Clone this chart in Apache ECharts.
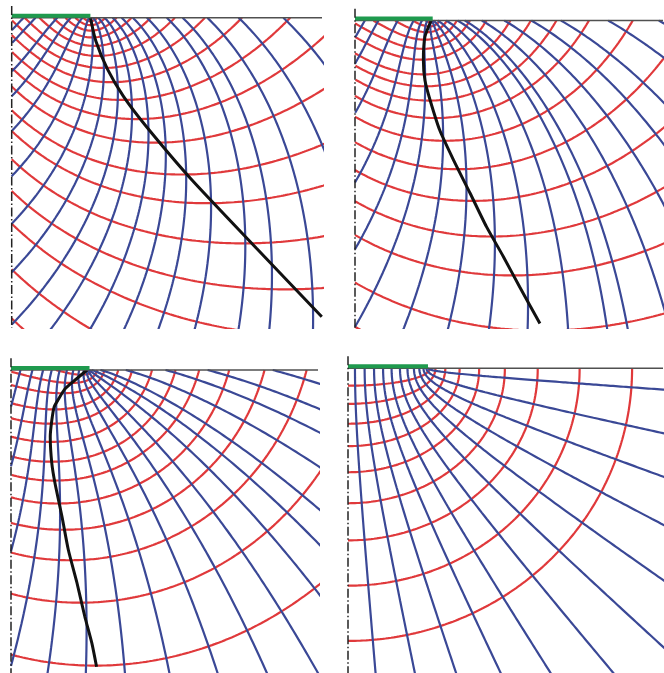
<!DOCTYPE html>
<html><head><meta charset="utf-8">
<script src="https://cdn.jsdelivr.net/npm/echarts@6/dist/echarts.min.js"></script>
<style>html,body{margin:0;padding:0;background:#fff}#c{width:664px;height:673px}</style>
</head><body><div id="c"></div>
<script>
// ---- data (footing half-width = 1 unit) ----
// trajectory angle (deg) of each net relative to the confocal ellipse/hyperbola net
const panelAngles = [44, 30, 15, 0];
// red family levels  (u*cos(a) + v*sin(a))
const panel1Red = [0.167,0.302,0.437,0.572,0.707,0.842,0.977,1.113,1.249,1.393,1.523,1.659,1.811,1.926,2.062,2.192,2.307,2.443,2.566];
const panel2Red = [0.067,0.217,0.367,0.517,0.667,0.817,0.967,1.140,1.262,1.391,1.530,1.686,1.851,2.006,2.154,2.292,2.457,2.587];
const panel3Red = [0.08,0.25,0.426,0.590,0.803,0.967,1.150,1.324,1.469,1.624,1.778,1.933,2.116,2.338];
const panel4Red = [0.216,0.431,0.647,0.862,1.078,1.294,1.509,1.725,1.940];
// blue family levels (-u*sin(a) + v*cos(a))
const panel1Blue = [1.02,0.908,0.685,0.519,0.324,0.123,-0.044,-0.183,-0.308,-0.41,-0.51,-0.60,-0.692,-0.789,-0.903,-0.98,-1.084,-1.195,-1.327,-1.45];
const panel2Blue = [1.25,1.095,0.855,0.62,0.46,0.32,0.18,0.05,-0.07,-0.18,-0.29,-0.39,-0.44,-0.536,-0.635,-0.73,-0.815,-0.925,-1.02];
const panel3Blue = [1.40,1.25,1.11,0.99,0.87,0.75,0.63,0.50,0.37,0.25,0.14,0.03,-0.06,-0.135,-0.24,-0.336,-0.406,-0.485];
const panel4Blue = [1.4835,1.3614,1.2392,1.1170,0.9948,0.8639,0.7330,0.6021,0.4712,0.3403,0.2094,0.0698];
// black line points [x, depth]
const panel1Black = [[1.0,0],[1.07,0.3],[1.22,0.66],[1.42,1.0],[1.70,1.37],[2.27,2.04],[3.11,2.93],[3.94,3.80]];
const panel2Black = [[0.98,0],[0.90,0.21],[0.88,0.51],[0.90,0.77],[0.965,1.02],[1.09,1.41],[1.27,1.80],[1.48,2.22],[1.69,2.65],[1.91,3.04],[2.12,3.43],[2.38,3.90]];
const panel3Black = [[0.97,0],[0.79,0.15],[0.68,0.25],[0.60,0.38],[0.55,0.47],[0.52,0.64],[0.50,0.85],[0.52,1.19],[0.56,1.44],[0.65,1.87],[0.73,2.29],[0.84,2.71],[0.94,3.14],[1.03,3.48],[1.09,3.78]];
const panel4Black = [];

// ---- layout ----
const panels = [
  {left:11.7, top:17.7, a:78.7, w:310.3, h:310.3},
  {left:355, top:20.5, a:77.7, w:308, h:307.5},
  {left:11, top:370, a:78.5, w:307, h:303},
  {left:348, top:368.3, a:80, w:315, h:304.7}
];
const reds = [panel1Red, panel2Red, panel3Red, panel4Red];
const blues = [panel1Blue, panel2Blue, panel3Blue, panel4Blue];
const blacks = [panel1Black, panel2Black, panel3Black, panel4Black];

const RED = '#e0393b', BLUE = '#3a4896';
function mapW(u, v) { return [Math.cosh(u) * Math.cos(v), Math.sinh(u) * Math.sin(v)]; }
const N = 320, UMAX = 3.2, H = Math.PI / 2;
function redPts(F, ang) {
  const a = ang * Math.PI / 180, s = Math.sin(a), c = Math.cos(a), p = [];
  if (s < 1e-9) { for (let i = 0; i <= N; i++) p.push(mapW(F, H * i / N)); return p; }
  const v0 = Math.max(0, (F - UMAX * c) / s), v1 = Math.min(H, F / s);
  for (let i = 0; i <= N; i++) { const v = v0 + (v1 - v0) * i / N; p.push(mapW(Math.max(0, (F - v * s) / c), v)); }
  return p;
}
function bluePts(G, ang) {
  const a = ang * Math.PI / 180, s = Math.sin(a), c = Math.cos(a), p = [];
  if (s < 1e-9) { for (let i = 0; i <= N; i++) p.push(mapW(UMAX * i / N, G)); return p; }
  const u0 = Math.max(0, -G / s), u1 = Math.min(UMAX, (H * c - G) / s);
  if (u1 <= u0) return p;
  for (let i = 0; i <= N; i++) { const u = u0 + (u1 - u0) * i / N; p.push(mapW(u, Math.min(H, Math.max(0, (G + u * s) / c)))); }
  return p;
}

const grid = [], xAxis = [], yAxis = [], series = [];
panels.forEach((P, k) => {
  const xmax = P.w / P.a, ymax = P.h / P.a;
  grid.push({left: P.left, top: P.top, width: P.w, height: P.h});
  xAxis.push({type:'value', gridIndex:k, min:0, max:xmax, show:false});
  yAxis.push({type:'value', gridIndex:k, min:0, max:ymax, inverse:true, show:false});
  const base = {type:'line', xAxisIndex:k, yAxisIndex:k, showSymbol:false, silent:true, animation:false};
  reds[k].forEach(F => series.push(Object.assign({}, base, {data: redPts(F, panelAngles[k]), z:2, lineStyle:{color:RED, width:2.2}})));
  blues[k].forEach(G => series.push(Object.assign({}, base, {data: bluePts(G, panelAngles[k]), z:3, lineStyle:{color:BLUE, width:2.2}})));
  if (blacks[k].length) series.push(Object.assign({}, base, {data: blacks[k], smooth:0.2, z:4, lineStyle:{color:'#111', width:3}}));
  const off = 2 / P.a;
  series.push(Object.assign({}, base, {data: [[0,0],[xmax,0]], clip:false, z:5, lineStyle:{color:'#505050', width:1.6}}));
  series.push(Object.assign({}, base, {data: [[0,-off],[1,-off]], clip:false, z:6, lineStyle:{color:'#1f9a4e', width:4}}));
  series.push(Object.assign({}, base, {data: [[0,-0.15],[0,ymax]], clip:false, z:7, lineStyle:{color:'#222', width:1.5, type:[9,2.5,1.5,2.5]}}));
});

const chart = echarts.init(document.getElementById('c'), null, {renderer:'canvas'});
chart.setOption({animation:false, backgroundColor:'#fff', grid, xAxis, yAxis, series});
</script></body></html>
